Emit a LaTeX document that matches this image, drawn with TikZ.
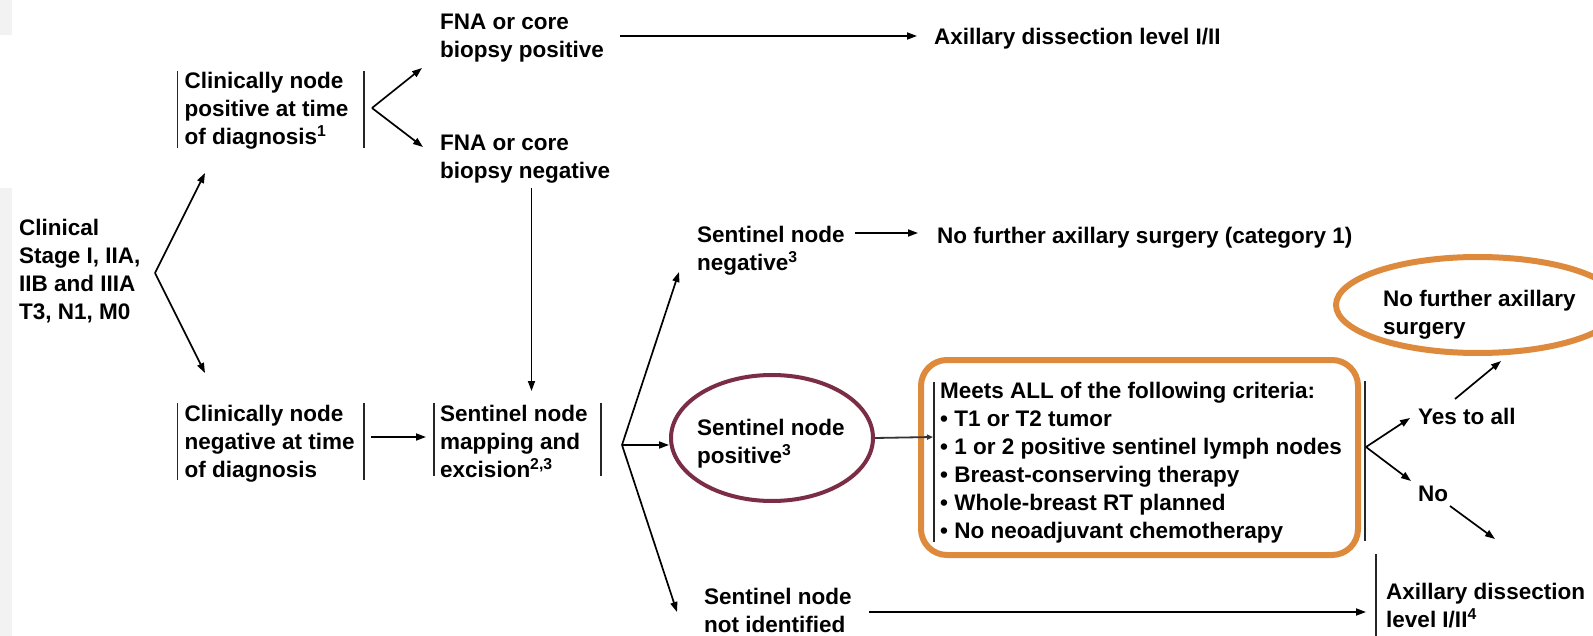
\documentclass[tikz,border=0pt]{standalone}
\usepackage{fontspec}
\setmainfont{Liberation Sans}
\usetikzlibrary{arrows.meta,shapes.geometric}
\definecolor{orangeC}{RGB}{222,138,60}
\definecolor{maroonC}{RGB}{122,45,68}
\begin{document}
\begin{tikzpicture}[x=1pt,y=-1pt,
  txt/.style={anchor=north west, inner sep=0pt, align=left, text=black,
              font=\bfseries\fontsize{22.5}{28}\selectfont},
  bar/.style={draw=black!85, line width=1.8pt},
  arr/.style={draw=black, line width=1.7pt, -{Triangle[length=10pt,width=7pt]}},
]
\useasboundingbox (0,0) rectangle (1593,636);
\fill[white] (0,0) rectangle (1593,636);
\fill[black!5] (0,0) rectangle (12,35);
\fill[black!5] (0,188) rectangle (12,636);

% text nodes
\node[txt] (start) at (19,219.3) {Clinical\\Stage I, IIA,\\IIB and IIIA\\T3, N1, M0};
\node[txt] (cpos) at (184.5,71.8) {Clinically node\\positive at time\\of diagnosis\textsuperscript{1}};
\node[txt] (cneg) at (184.5,404.8) {Clinically node\\negative at time\\of diagnosis};
\node[txt] (fnapos) at (440,14.3) {FNA or core\\biopsy positive};
\node[txt] (fnaneg) at (440,134.8) {FNA or core\\biopsy negative};
\node[txt] (axtop) at (934,27.8) {Axillary dissection level I/II};
\node[txt] (map) at (440,404.8) {Sentinel node\\mapping and\\excision\textsuperscript{2,3}};
\node[txt] (snneg) at (697,225.8) {Sentinel node\\negative\textsuperscript{3}};
\node[txt] (cat1) at (937,226.5) {No further axillary surgery (category 1)};
\node[ellipse, draw=maroonC, line width=4pt, minimum width=202pt, minimum height=126pt, inner sep=0pt] (snposE) at (772,438) {};
\node[txt] (snpos) at (697,418.8) {Sentinel node\\positive\textsuperscript{3}};
\node[txt] (crit) at (940,381.8) {Meets ALL of the following criteria:\\%
  \textbullet\ T1 or T2 tumor\\%
  \textbullet\ 1 or 2 positive sentinel lymph nodes\\%
  \textbullet\ Breast-conserving therapy\\%
  \textbullet\ Whole-breast RT planned\\%
  \textbullet\ No neoadjuvant chemotherapy};
\node[txt] (yes) at (1418,407.8) {Yes to all};
\node[txt] (no) at (1418,485.8) {No};
\node[ellipse, draw=orangeC, line width=6pt, minimum width=284pt, minimum height=96pt, inner sep=0pt] (nfE) at (1478,305) {};
\node[txt] (nf) at (1383,289.8) {No further axillary\\surgery};
\node[txt] (axbot) at (1386,582.8) {Axillary dissection\\level I/II\textsuperscript{4}};
\node[txt] (ni) at (704,588.3) {Sentinel node\\not identified};

% orange frame around criteria
\draw[orangeC, line width=6pt, rounded corners=26pt] (921,360) rectangle (1358,555);

% bracket bars
\draw[bar] (177.5,71) -- (177.5,148);
\draw[bar] (364,71) -- (364,148);
\draw[bar] (177.5,403) -- (177.5,480);
\draw[bar] (364,403) -- (364,480);
\draw[bar] (434,403) -- (434,476);
\draw[bar] (601,403) -- (601,476);
\draw[bar] (934,382) -- (934,542);
\draw[bar] (1365,381) -- (1365,541);
\draw[bar] (1376,554) -- (1376,640);

% connector coordinates
\coordinate (vStart) at (155,273);
\coordinate (tBox1) at (205,173);
\coordinate (tBox2) at (205,373);
\coordinate (vPos) at (372,108);
\coordinate (tFNApos) at (422,68);
\coordinate (tFNAneg) at (423,147);
\coordinate (sFNApos) at (620,36);
\coordinate (tAxTop) at (917,36);
\coordinate (sFNAneg) at (531.5,188);
\coordinate (tMap) at (531.5,391);
\coordinate (sNeg) at (371,437);
\coordinate (tMapL) at (426,437);
\coordinate (vMap) at (622,445);
\coordinate (tSNneg) at (679,272);
\coordinate (tSNpos) at (669,445);
\coordinate (tSNni) at (677,612);
\coordinate (sSNneg) at (855,233);
\coordinate (tCat1) at (918,233);
\coordinate (tCrit) at (933,437);
\coordinate (sNI) at (869,612);
\coordinate (tAxBot) at (1366,612);
\coordinate (vCrit) at (1366,447);
\coordinate (tYes) at (1410,418);
\coordinate (tNo) at (1411,481);
\coordinate (sYes) at (1455,399);
\coordinate (tNF) at (1501,361);
\coordinate (sNo) at (1450,506);
\coordinate (tAxB) at (1495,539);

% connectors
\draw[arr] (vStart) -- (tBox1);
\draw[arr] (vStart) -- (tBox2);
\draw[arr] (vPos) -- (tFNApos);
\draw[arr] (vPos) -- (tFNAneg);
\draw[arr] (sFNApos) -- (tAxTop);
\draw[arr] (sFNAneg) -- (tMap);
\draw[arr] (sNeg) -- (tMapL);
\draw[arr] (vMap) -- (tSNneg);
\draw[arr] (vMap) -- (tSNpos);
\draw[arr] (vMap) -- (tSNni);
\draw[arr] (sSNneg) -- (tCat1);
\draw[draw=black!80, line width=1.8pt, -{Triangle[length=6pt,width=5pt]}] (snposE.east) -- (tCrit);
\draw[arr] (sNI) -- (tAxBot);
\draw[arr] (vCrit) -- (tYes);
\draw[arr] (vCrit) -- (tNo);
\draw[arr] (sYes) -- (tNF);
\draw[arr] (sNo) -- (tAxB);
\end{tikzpicture}
\end{document}
